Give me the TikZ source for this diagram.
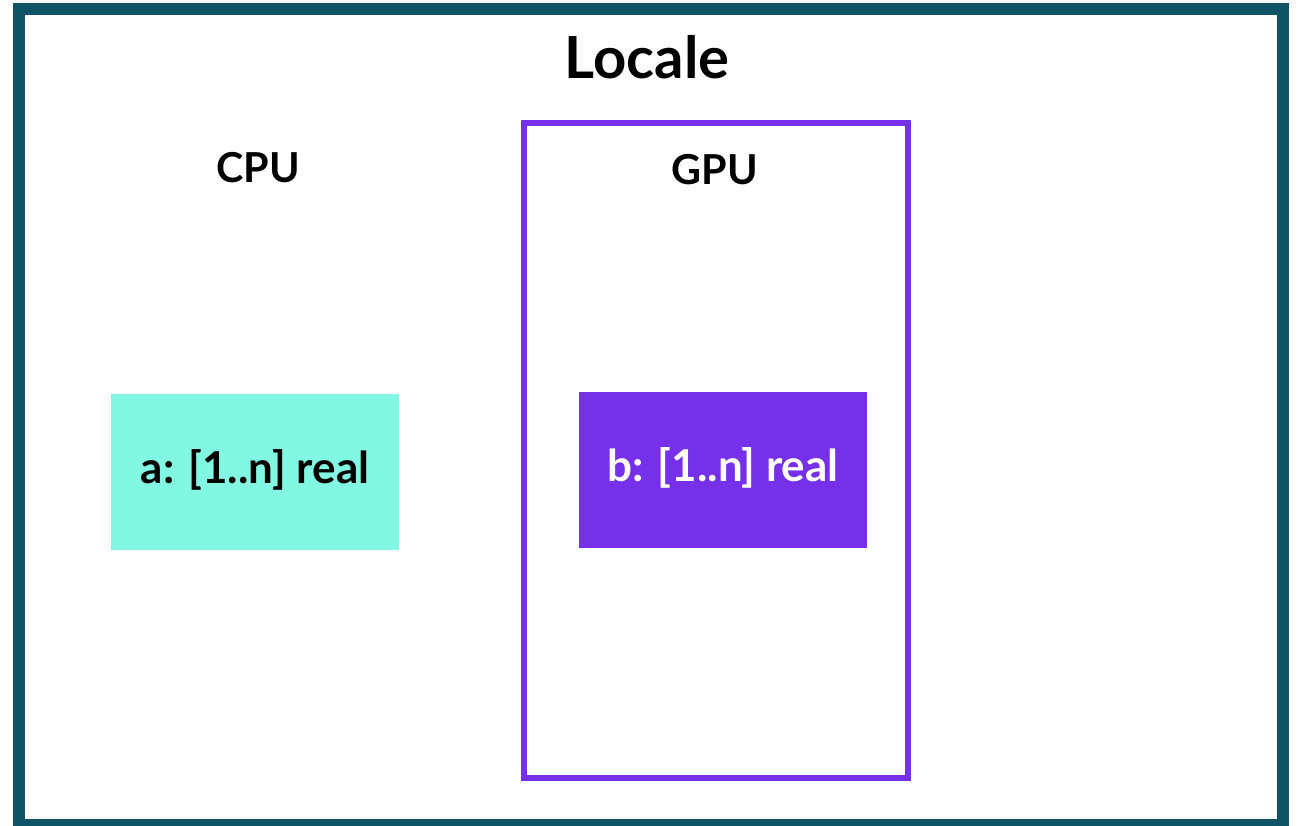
\documentclass[tikz,border=0pt]{standalone}
\usepackage{fontspec}
\setmainfont{Lato}
\usetikzlibrary{positioning}

\definecolor{framecol}{HTML}{0E5466}
\definecolor{gpucol}{HTML}{7630EA}
\definecolor{cpucol}{HTML}{82F8E2}

\begin{document}
\begin{tikzpicture}[
    x=0.02cm, y=-0.02cm,
    frame/.style={draw=#1, rectangle, inner sep=0pt},
    title/.style={font=\fontsize{33}{36}\selectfont\bfseries},
    devlabel/.style={font=\fontsize{23.5}{26}\selectfont\bfseries},
    arrbox/.style={rectangle, fill=#1, minimum width=5.76cm, minimum height=3.12cm, inner sep=0pt, font=\fontsize{25}{28}\selectfont\bfseries},
    arrbox/.default=cpucol
]
\useasboundingbox (0,0) rectangle (1301,825);

% --- Frames ---
\node[frame=framecol, line width=0.24cm, minimum width=25.28cm, minimum height=16.32cm] (locale) at (651,417) {};
\node[frame=gpucol, line width=0.12cm, minimum width=7.69cm, minimum height=13.1cm] (gpu) at (715.75,450.5) {};

% --- Labels ---
\node[title] (localelabel) at (647,57) {Locale};
\node[devlabel] (cpulabel) at (258,168) {CPU};
\node[devlabel] (gpulabel) at (715,170) {GPU};

% --- Arrays ---
\node[arrbox] (arra) at (255,472) {\raisebox{6pt}{a: [1..n] real}};
\node[arrbox=gpucol, text=white] (arrb) at (723,470) {\raisebox{6pt}{b: [1..n] real}};

\end{tikzpicture}
\end{document}
